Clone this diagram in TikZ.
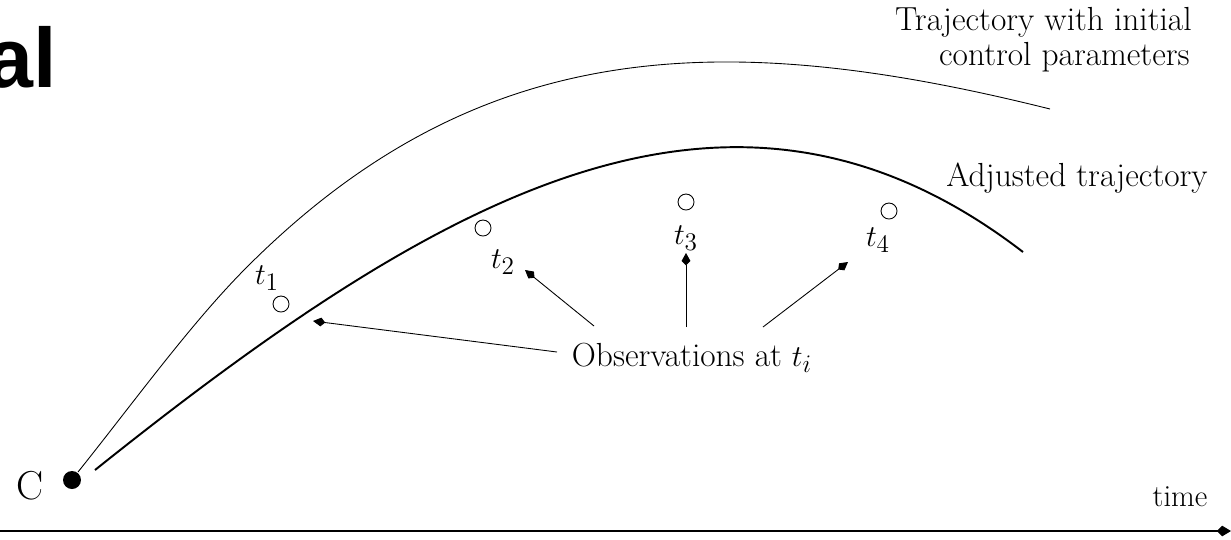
\documentclass[tikz,border=0pt]{standalone}
\usepackage{fontspec}
\newfontfamily\titlefont{Liberation Sans}
\usetikzlibrary{arrows.meta}
\tikzset{
  lbl/.style={font=\fontsize{19}{23}\selectfont, inner sep=0pt},
  obs/.style={circle, draw, minimum size=0.32cm, inner sep=0pt, line width=0.5pt},
  ptr/.style={line width=0.5pt, -{Kite[length=7pt,width=5pt,inset=2.5pt]}},
  thin traj/.style={line width=0.5pt},
  thick traj/.style={line width=1.1pt}
}
\begin{document}
\begin{tikzpicture}[x=0.02cm, y=-0.02cm]
\useasboundingbox (0,0) rectangle (1231,539);
\clip (0,0) rectangle (1231,539);
% partial title
\node[anchor=base east, inner sep=0pt, font=\titlefont\bfseries\fontsize{48}{56}\selectfont] (ttl) at (57,87) {al};
% time axis
\coordinate (ax0) at (0,531);
\coordinate (ax1) at (1231,531);
\draw[line width=0.6pt, -{Kite[length=8pt,width=6pt,inset=3pt]}] (ax0) -- (ax1);
\node[anchor=base, inner sep=0pt, font=\fontsize{17.5}{21}\selectfont] (time) at (1180,506) {time};
% start point
\node[circle, fill=black, minimum size=0.36cm, inner sep=0pt] (C) at (72,480) {};
\node[anchor=base, inner sep=0pt, font=\fontsize{23}{27}\selectfont] (Clab) at (30,499) {C};
% trajectories
\coordinate (s1) at (78,472);
\coordinate (m1) at (247,267);
\coordinate (e1) at (1050,109);
\coordinate (s2) at (95,470);
\coordinate (e2) at (1023,252);
\draw[thin traj] (s1) .. controls (134,402) and (191,323) .. (m1)
                      .. controls (477,37) and (720,26.5) .. (e1);
\draw[thick traj] (s2) .. controls (445,190) and (733,29) .. (e2);
% curve labels
\node[lbl, anchor=base east] (init1) at (1192,30) {Trajectory with initial};
\node[lbl, anchor=base east] (init2) at (1190,65) {control parameters};
\node[lbl, anchor=base east] (adj) at (1208,186) {Adjusted trajectory};
% observations
\node[obs] (o1) at (281,304) {};
\node[obs] (o2) at (483,228) {};
\node[obs] (o3) at (686,202) {};
\node[obs] (o4) at (889,211) {};
\node[lbl] (t1) at (267,278) {$t_1$};
\node[lbl] (t2) at (503,262) {$t_2$};
\node[lbl] (t3) at (686,238) {$t_3$};
\node[lbl] (t4) at (878,240) {$t_4$};
\node[lbl] (obsl) at (692,358) {Observations at $t_i$};
% pointers
\coordinate (a1) at (313,321);
\coordinate (a2) at (525,270);
\coordinate (a3) at (686,253);
\coordinate (a4) at (848,262);
\coordinate (b1) at (557,352);
\coordinate (b2) at (594,326);
\coordinate (b3) at (686,327);
\coordinate (b4) at (763,327);
\draw[ptr] (b1) -- (a1);
\draw[ptr] (b2) -- (a2);
\draw[ptr] (b3) -- (a3);
\draw[ptr] (b4) -- (a4);
\end{tikzpicture}
\end{document}
